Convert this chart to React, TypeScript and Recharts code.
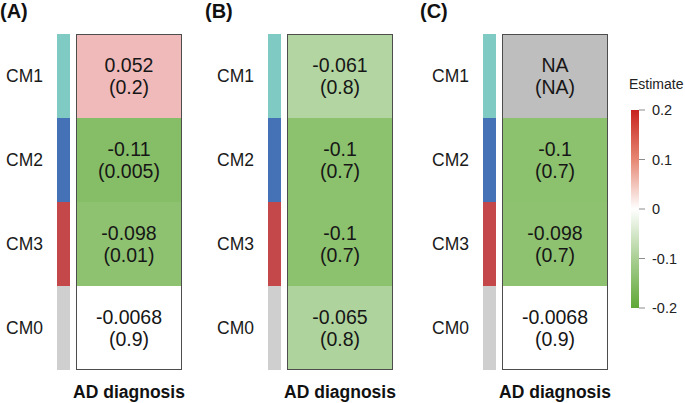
import { BarChart, Bar, XAxis, YAxis } from 'recharts';

const modules = ['CM1', 'CM2', 'CM3', 'CM0'];

const estimateA = [0.052, -0.11, -0.098, -0.0068];
const pValueA = ['0.2', '0.005', '0.01', '0.9'];

const estimateB = [-0.061, -0.1, -0.1, -0.065];
const pValueB = ['0.8', '0.7', '0.7', '0.8'];

const estimateC = [null, -0.1, -0.098, -0.0068];
const pValueC = ['NA', '0.7', '0.7', '0.9'];

const panelLabels = ['(A)', '(B)', '(C)'];
const xLabel = 'AD diagnosis';
const legendTitle = 'Estimate';
const legendTicks = [-0.2, -0.1, 0, 0.1, 0.2];

const FONT = '"Liberation Sans", Arial, Helvetica, sans-serif';
const moduleColors: Record<string, string> = {
  CM1: '#7fcbc3',
  CM2: '#4571b6',
  CM3: '#c4474a',
  CM0: '#cfcfcf',
};
const NA_COLOR = '#bebebe';

// colour ramp used for the cells (value -> rgb)
const cellStops: Array<[number, number[]]> = [
  [-0.2, [80, 155, 40]],
  [-0.1, [140, 193, 110]],
  [-0.05, [190, 218, 175]],
  [-0.01, [255, 255, 255]],
  [0, [255, 255, 255]],
  [0.05, [241, 188, 188]],
  [0.2, [200, 35, 30]],
];

function estColor(v: number | null) {
  if (v === null || v === undefined) return NA_COLOR;
  const c = Math.max(-0.2, Math.min(0.2, v));
  for (let i = 0; i < cellStops.length - 1; i++) {
    const [a, ca] = cellStops[i];
    const [b, cb] = cellStops[i + 1];
    if (c >= a && c <= b) {
      const t = (c - a) / (b - a);
      const rgb = ca.map((x, k) => Math.round(x + (cb[k] - x) * t));
      return `rgb(${rgb.join(',')})`;
    }
  }
  return '#ffffff';
}

const legendStops = [
  { off: '0%', color: 'rgb(200,35,30)' },
  { off: '25%', color: 'rgb(230,135,115)' },
  { off: '50%', color: 'rgb(255,255,255)' },
  { off: '75%', color: 'rgb(170,207,148)' },
  { off: '100%', color: 'rgb(95,168,55)' },
];

const HeatShape = (props: any) => {
  const { x, y, width, height, index, payload } = props;
  const cellX = x + 19;
  const cellW = width - 19;
  const cx = cellX + cellW / 2;
  const cy = y + height / 2;
  const last = index === modules.length - 1;
  const label = payload.est === null ? 'NA' : String(payload.est);
  return (
    <g>
      <rect x={x} y={y} width={13} height={height} fill={moduleColors[payload.module]} />
      <rect x={cellX} y={y} width={cellW} height={height} fill={estColor(payload.est)} />
      <line x1={cellX + 0.5} x2={cellX + 0.5} y1={y} y2={y + height} stroke="#4d4d4d" />
      <line x1={cellX + cellW - 0.5} x2={cellX + cellW - 0.5} y1={y} y2={y + height} stroke="#4d4d4d" />
      {index === 0 && <line x1={cellX} x2={cellX + cellW} y1={y + 0.5} y2={y + 0.5} stroke="#4d4d4d" />}
      {last && <line x1={cellX} x2={cellX + cellW} y1={y + height - 0.5} y2={y + height - 0.5} stroke="#4d4d4d" />}
      <text x={cx} y={cy - 11} textAnchor="middle" dominantBaseline="central" fontSize={19.5} fill="#161616" fontFamily={FONT}>
        {label}
      </text>
      <text x={cx} y={cy + 11} textAnchor="middle" dominantBaseline="central" fontSize={19.5} fill="#161616" fontFamily={FONT}>
        ({payload.p})
      </text>
    </g>
  );
};

function Panel({ est, p, left, label, labelLeft }: any) {
  const data = modules.map((m, i) => ({ module: m, est: est[i], p: p[i] }));
  return (
    <>
      <div style={{ position: 'absolute', left: labelLeft, top: 1, fontSize: 20, fontWeight: 'bold', lineHeight: '20px' }}>
        {label}
      </div>
      <div style={{ position: 'absolute', left, top: 0 }}>
        <BarChart
          layout="vertical"
          width={184}
          height={403}
          data={data}
          margin={{ top: 34, right: 2, bottom: 33, left: 0 }}
          barCategoryGap={0}
        >
          <XAxis type="number" domain={[0, 1]} hide />
          <YAxis
            type="category"
            dataKey="module"
            width={57}
            tickLine={false}
            axisLine={false}
            tickSize={0}
            tickMargin={14}
            tick={{ fontSize: 17.5, fill: '#1a1a1a', fontFamily: FONT }}
          />
          <Bar dataKey={() => 1} isAnimationActive={false} shape={HeatShape} />
        </BarChart>
      </div>
      <div
        style={{
          position: 'absolute',
          left: left + 76 + 53 - 70,
          width: 140,
          top: 382,
          textAlign: 'center',
          fontSize: 17.5,
          fontWeight: 'bold',
          lineHeight: '20px',
        }}
      >
        {xLabel}
      </div>
    </>
  );
}

export default function App() {
  const legendData = [{ name: legendTitle, range: [Math.min(...legendTicks), Math.max(...legendTicks)] }];
  return (
    <div
      style={{
        position: 'absolute',
        left: 0,
        top: 0,
        width: 685,
        height: 403,
        background: '#fff',
        fontFamily: FONT,
        color: '#111',
        overflow: 'hidden',
      }}
    >
      <Panel est={estimateA} p={pValueA} left={0} label={panelLabels[0]} labelLeft={0} />
      <Panel est={estimateB} p={pValueB} left={211} label={panelLabels[1]} labelLeft={205} />
      <Panel est={estimateC} p={pValueC} left={426} label={panelLabels[2]} labelLeft={420} />

      <div style={{ position: 'absolute', left: 629, top: 75, fontSize: 14, lineHeight: '18px', color: '#222' }}>
        {legendTitle}
      </div>
      <div style={{ position: 'absolute', left: 600, top: 0 }}>
        <BarChart
          width={85}
          height={403}
          data={legendData}
          margin={{ top: 110, right: 0, bottom: 95, left: 31 }}
          barCategoryGap={0}
        >
          <defs>
            <linearGradient id="estGrad" x1="0" y1="0" x2="0" y2="1">
              {legendStops.map((s) => (
                <stop key={s.off} offset={s.off} stopColor={s.color} />
              ))}
            </linearGradient>
          </defs>
          <XAxis dataKey="name" hide />
          <YAxis
            orientation="right"
            type="number"
            domain={[-0.2, 0.2]}
            ticks={legendTicks}
            width={46}
            axisLine={false}
            tickLine={{ stroke: '#8c8c8c' }}
            tickSize={6}
            tickMargin={7}
            tick={{ fontSize: 14.5, fill: '#222', fontFamily: FONT }}
            tickFormatter={(v: number) => String(v)}
          />
          <Bar dataKey="range" fill="url(#estGrad)" isAnimationActive={false} />
        </BarChart>
      </div>
    </div>
  );
}
